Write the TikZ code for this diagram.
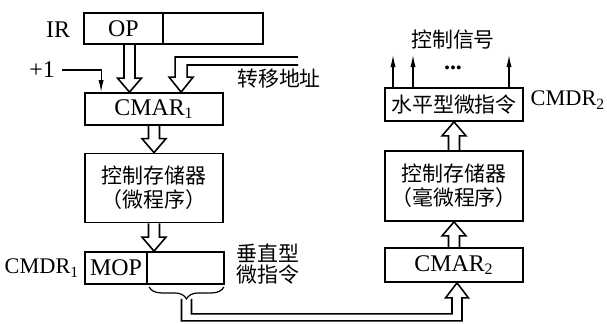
\documentclass[tikz,border=0pt]{standalone}
\usepackage{fontspec}
\setmainfont{Liberation Serif}
\newfontfamily\cjk{Noto Sans CJK SC}
\usetikzlibrary{arrows.meta,calc,decorations.pathreplacing}

% hollow (outline) arrow from #1 to the tip #2
\newcommand\hollowarrow[2]{%
  \coordinate (ha-b) at ($(#2)!7bp!(#1)$);
  \draw[hollow] ($(#1)!2.75bp!90:(#2)$) -- ($(ha-b)!2.75bp!90:(#2)$) -- ($(ha-b)!6bp!90:(#2)$)
    -- (#2) -- ($(ha-b)!6bp!-90:(#2)$) -- ($(ha-b)!2.75bp!-90:(#2)$) -- ($(#1)!2.75bp!-90:(#2)$);}

\begin{document}
\begin{tikzpicture}[x=0.5bp, y=-0.5bp,
  font=\fontsize{12}{14}\selectfont,
  reg/.style={draw, line width=0.9pt, inner sep=0pt, minimum width=69bp, minimum height=16bp},
  store/.style={reg, minimum height=34.5bp, align=center, font=\cjk\fontsize{10.5}{12}\selectfont},
  cn/.style={font=\cjk\fontsize{10.5}{12}\selectfont},
  tag/.style={font=\fontsize{11.2}{13}\selectfont},
  hollow/.style={line width=0.8pt, line join=miter},
  wire/.style={line width=0.6pt},
  sig/.style={wire, -{Latex[length=6bp,width=2.6bp]}}
]
\useasboundingbox (0,0) rectangle (607,323);

% left: vertical microprogram
\node[reg, minimum width=39.5bp, minimum height=15.5bp] (op) at (123.5,28.5) {OP};
\node[reg, minimum width=50bp, minimum height=15.5bp] (irrest) at (213,28.5) {};
\node (ir) at (58,30) {IR};

\node[reg] (cmar1) at (154,109) {CMAR\textsubscript{1}};
\node[store] (mem1) at (154,188) {控制存储器\\（微程序）};

\node[reg, minimum width=31bp] (mop) at (116,268) {MOP};
\node[reg, minimum width=38.5bp] (cmdr1rest) at (185.5,268) {};
\node[tag] (cmdr1) at (42,268) {CMDR\textsubscript{1}};
\node[cn, align=left, font=\cjk\fontsize{10.5}{10.5}\selectfont] (vlabel) at (268,264) {垂直型\\微指令};

\coordinate (opout) at ($(op.south)+(6,0)$);
\hollowarrow{opout}{opout |- cmar1.north}
\hollowarrow{cmar1.south}{mem1.north}
\hollowarrow{mem1.south}{mem1.south |- mop.north}

\node (plus) at (42,70) {+1};
\draw[sig] (plus.east) -| ($(cmar1.north west)+(17,0)$);

\coordinate (jmpa) at (298,57);
\coordinate (jmpb) at (298,65);
\coordinate (jmptip) at ($(cmar1.north west)+(97,0)$);
\draw[hollow] (jmpa) -| ($(jmptip)+(-6,-15)$) -- ($(jmptip)+(-12,-15)$) -- (jmptip)
  -- ($(jmptip)+(12,-15)$) -- ($(jmptip)+(6,-15)$) |- (jmpb);
\node[cn] (jmp) at (279,79) {转移地址};

% right: horizontal nanoprogram
\node[reg, minimum height=16.5bp, cn] (cmdr2) at (454,104.5) {水平型微指令};
\node[tag] (cmdr2lbl) at (568,100) {CMDR\textsubscript{2}};
\node[store, minimum height=35bp] (mem2) at (454,186) {控制存储器\\（毫微程序）};
\node[reg, minimum height=17bp] (cmar2) at (454,265) {CMAR\textsubscript{2}};

\hollowarrow{mem2.north}{cmdr2.south}
\hollowarrow{cmar2.north}{mem2.south}

\foreach \sx/\nm in {393/a,413/b,509/c}{
  \coordinate (sig\nm) at (\sx,55);
  \draw[sig] (cmdr2.north -| sig\nm) -- (sig\nm);
}
\node[font=\bfseries\fontsize{12}{14}\selectfont] (dots) at (453,68) {...};
\node[cn] (ctrl) at (453,40) {控制信号};

% link CMDR1 -> CMAR2
\draw[wire, decorate, decoration={brace, mirror, amplitude=6bp}]
  ($(cmdr1rest.south west)+(3,2)$) -- ($(cmdr1rest.south east)+(-1,2)$);
\coordinate (brtip) at ($(cmdr1rest.south)+(1,14)$);
\coordinate (cin) at ($(cmar2.south)+(3,0)$);
\draw[hollow] ($(brtip)+(-5,0)$) |- ($(cin)+(5,38)$) -- ($(cin)+(5,15)$) -- ($(cin)+(11.5,15)$)
  -- (cin) -- ($(cin)+(-11.5,15)$) -- ($(cin)+(-5,15)$) |- ($(brtip)+(5,15)$) -- ($(brtip)+(5,0)$);

\end{tikzpicture}
\end{document}
